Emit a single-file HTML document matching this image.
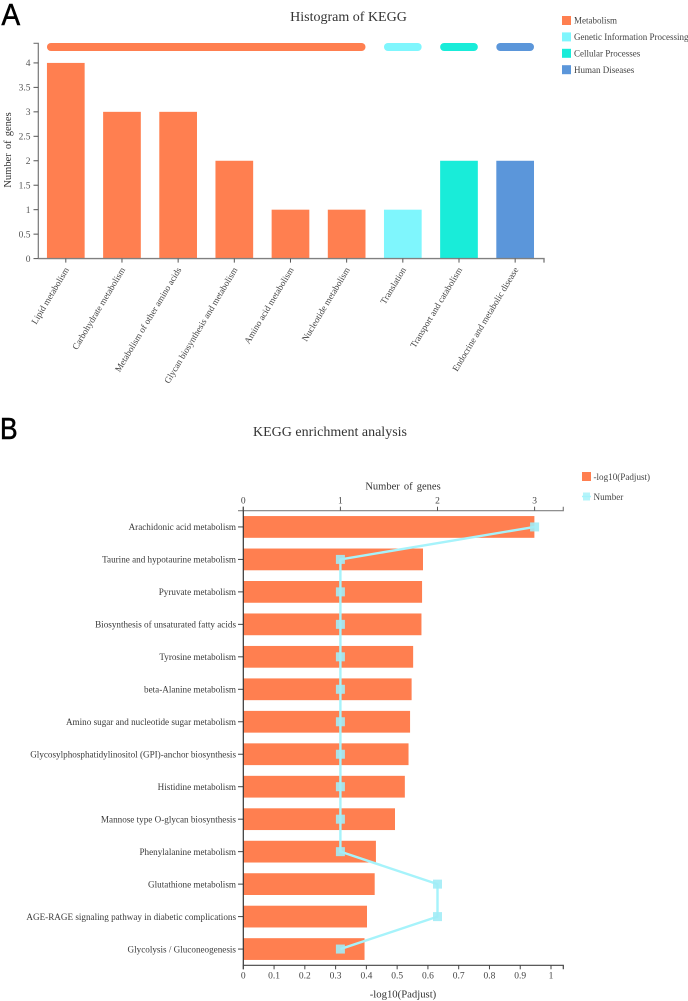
<!DOCTYPE html>
<html lang="en">
<head>
<meta charset="utf-8">
<title>KEGG charts</title>
<style>
html,body{margin:0;padding:0;background:#fff;width:688px;height:1001px;overflow:hidden}
svg{display:block;font-family:"Liberation Serif",serif}
text{fill:#333}
</style>
</head>
<body>
<svg id="chart" xmlns="http://www.w3.org/2000/svg" width="688" height="1001" viewBox="0 0 688 1001">
  <text transform="translate(1.5,25) scale(0.9,1)" stroke="#000" stroke-width="0.6" style="font-family:'Liberation Sans',sans-serif;font-size:31px;fill:#000">A</text>
  <text transform="translate(0,439) scale(0.85,1)" stroke="#000" stroke-width="0.6" style="font-family:'Liberation Sans',sans-serif;font-size:31px;fill:#000">B</text>
  <text x="348.5" y="21" text-anchor="middle" font-size="14">Histogram of KEGG</text>
  <text x="330" y="436" text-anchor="middle" font-size="14">KEGG enrichment analysis</text>
  <text transform="translate(11,150) rotate(-90)" text-anchor="middle" font-size="10.5" word-spacing="1.5">Number of genes</text>
  <text x="403" y="489.5" text-anchor="middle" font-size="10.5" word-spacing="1.5">Number of genes</text>
  <text x="403" y="997.5" text-anchor="middle" font-size="10.7" word-spacing="0.5">-log10(Padjust)</text>
  <g id="a"></g>
  <g id="b"></g>
</svg>
<script>
const histCategories = ["Lipid metabolism","Carbohydrate metabolism","Metabolism of other amino acids","Glycan biosynthesis and metabolism","Amino acid metabolism","Nucleotide metabolism","Translation","Transport and catabolism","Endocrine and metabolic disease"];
const histValues = [4,3,3,2,1,1,1,2,2];
const histGroups = ["Metabolism","Metabolism","Metabolism","Metabolism","Metabolism","Metabolism","Genetic Information Processing","Cellular Processes","Human Diseases"];
const groupNames = ["Metabolism","Genetic Information Processing","Cellular Processes","Human Diseases"];
const groupColors = ["#ff7f50","#7ff6fd","#19ecd9","#5b96da"];
const histTicks = [0,0.5,1,1.5,2,2.5,3,3.5,4];

const enrichCategories = ["Arachidonic acid metabolism","Taurine and hypotaurine metabolism","Pyruvate metabolism","Biosynthesis of unsaturated fatty acids","Tyrosine metabolism","beta-Alanine metabolism","Amino sugar and nucleotide sugar metabolism","Glycosylphosphatidylinositol (GPI)-anchor biosynthesis","Histidine metabolism","Mannose type O-glycan biosynthesis","Phenylalanine metabolism","Glutathione metabolism","AGE-RAGE signaling pathway in diabetic complications","Glycolysis / Gluconeogenesis"];
const enrichPadjust = [0.946,0.584,0.581,0.579,0.552,0.547,0.542,0.537,0.525,0.493,0.431,0.427,0.402,0.394];
const enrichNumber = [3,1,1,1,1,1,1,1,1,1,1,2,2,1];
const padjustTicks = [0,0.1,0.2,0.3,0.4,0.5,0.6,0.7,0.8,0.9,1];
const numberTicks = [0,1,2,3];

const NS = "http://www.w3.org/2000/svg";
function mk(parent, tag, attrs, text) {
  const el = document.createElementNS(NS, tag);
  for (const k in attrs) el.setAttribute(k, attrs[k]);
  if (text !== undefined) el.textContent = text;
  parent.appendChild(el);
  return el;
}

/* ---------- Panel A ---------- */
const A = document.getElementById("a");
const aLeft = 38.3, aRight = 544, aBase = 258.6, aTop = 43.3;
const aUnit = 48.92;
const aY = v => aBase - v * aUnit;
const aBand = 56.17;
const aX = i => 65.8 + aBand * i;
const aBarW = 37.7;
const colorOf = g => groupColors[groupNames.indexOf(g)];

histCategories.forEach((c, i) => {
  const bar = mk(A, "rect", {x: aX(i) - aBarW / 2, y: aY(histValues[i]), width: aBarW, height: aBase - aY(histValues[i]), fill: colorOf(histGroups[i])});
  
  
});

groupNames.forEach(g => {
  const idx = histGroups.map((h, i) => h === g ? i : -1).filter(i => i >= 0);
  const x0 = aX(idx[0]) - aBarW / 2;
  const x1 = aX(idx[idx.length - 1]) + aBarW / 2;
  const strip = mk(A, "rect", {x: x0, y: 43, width: x1 - x0, height: 8, rx: 4, ry: 4, fill: colorOf(g)});
  
  
});

const aAxisY = mk(A, "path", {d: `M33.5 ${aTop}H${aLeft}V${aBase}`, fill: "none", stroke: "#777", "stroke-width": 1.2});


const aAxisX = mk(A, "path", {d: `M${aLeft} ${aBase}H${aRight}V${aBase + 4}`, fill: "none", stroke: "#808080", "stroke-width": 1.4});



histTicks.forEach(t => {
  mk(A, "line", {x1: 33.5, x2: aLeft, y1: aY(t), y2: aY(t), stroke: "#555", "stroke-width": 1});
  const lbl = mk(A, "text", {x: 30.5, y: aY(t) + 3.3, "text-anchor": "end", "font-size": 9.5, style: "fill:#555"}, String(t));
  
  
});

histCategories.forEach((c, i) => {
  mk(A, "line", {x1: aX(i), x2: aX(i), y1: aBase, y2: aBase + 4, stroke: "#555", "stroke-width": 1});
  const lbl = mk(A, "text", {transform: `translate(${aX(i) + 3.5},${aBase + 11}) rotate(-59)`, "text-anchor": "end", "font-size": 9.1, style: "fill:#444"}, c);
  
  
});

groupNames.forEach((g, i) => {
  const yy = 16 + i * 16.4;
  const sw = mk(A, "rect", {x: 562, y: yy, width: 9, height: 9, fill: groupColors[i]});
  
  
  const tx = mk(A, "text", {x: 574, y: yy + 7.6, "font-size": 9, style: "fill:#444"}, g);
  
  
});

/* ---------- Panel B ---------- */
const B = document.getElementById("b");
const bLeft = 243.3, bRight = 563.3, bTop = 510.7, bBottom = 965.3;
const bXP = v => bLeft + v * 307.7;
const bXN = v => bLeft + v * 97.1;
const bBand = (bBottom - bTop) / enrichCategories.length;
const bY = i => bTop + bBand * (i + 0.5);
const bBarH = bBand * 0.67;

enrichCategories.forEach((c, i) => {
  const bar = mk(B, "rect", {x: bLeft, y: bY(i) - bBarH / 2, width: bXP(enrichPadjust[i]) - bLeft, height: bBarH, fill: "#ff7f50"});
  
  
  mk(B, "line", {x1: 238, x2: bLeft, y1: bY(i), y2: bY(i), stroke: "#444", "stroke-width": 1});
  const lbl = mk(B, "text", {x: 236, y: bY(i) + 3.2, "text-anchor": "end", "font-size": 9.15, style: "fill:#3a3a3a"}, c);
  
  
});

const bAxisTop = mk(B, "path", {d: `M238 ${bTop}H${bRight}V${bTop - 4}`, fill: "none", stroke: "#808080", "stroke-width": 1.2});


const bAxisLeft = mk(B, "line", {x1: bLeft, x2: bLeft, y1: bTop - 4, y2: bBottom, stroke: "#333", "stroke-width": 1.2});


const bAxisBottom = mk(B, "path", {d: `M${bLeft} ${bBottom + 4}V${bBottom}H${bRight}V${bBottom + 4}`, fill: "none", stroke: "#444", "stroke-width": 1.2});



numberTicks.forEach(t => {
  mk(B, "line", {x1: bXN(t), x2: bXN(t), y1: bTop, y2: bTop - 4, stroke: "#555", "stroke-width": 1});
  const lbl = mk(B, "text", {x: bXN(t), y: 503.5, "text-anchor": "middle", "font-size": 9.5, style: "fill:#444"}, String(t));
  
  
});
padjustTicks.forEach(t => {
  mk(B, "line", {x1: bXP(t), x2: bXP(t), y1: bBottom, y2: bBottom + 4, stroke: "#444", "stroke-width": 1});
  const lbl = mk(B, "text", {x: bXP(t), y: 978.5, "text-anchor": "middle", "font-size": 9.5, style: "fill:#444"}, String(t));
  
  
});

const pts = enrichNumber.map((n, i) => bXN(n) + " " + bY(i)).join(" L");
const numberLine = mk(B, "path", {d: "M" + pts, fill: "none", stroke: "#a6f3fb", "stroke-width": 2.4, "stroke-linejoin": "round"});


enrichNumber.forEach((n, i) => {
  const m = mk(B, "rect", {x: bXN(n) - 4.5, y: bY(i) - 4.5, width: 9, height: 9, fill: "#a2ecf6", "fill-opacity": 0.9});
  
  
});

const lgA = mk(B, "rect", {x: 582, y: 472, width: 9, height: 9, fill: "#ff7f50"});


const lgAT = mk(B, "text", {x: 593.5, y: 480, "font-size": 9.1, style: "fill:#444"}, "-log10(Padjust)");


mk(B, "rect", {x: 583, y: 492.5, width: 7, height: 8, fill: "#b5f4fa"});
const lgB = mk(B, "line", {x1: 582, x2: 591, y1: 496.5, y2: 496.5, stroke: "#a6f3fb", "stroke-width": 1.5});


const lgBT = mk(B, "text", {x: 593.5, y: 500, "font-size": 9.1, style: "fill:#444"}, "Number");


</script>
</body>
</html>
